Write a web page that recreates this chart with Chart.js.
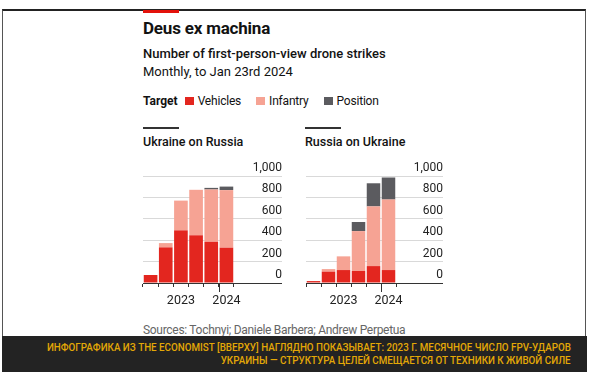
<!DOCTYPE html>
<html>
<head>
<meta charset="utf-8">
<script src="https://cdn.jsdelivr.net/npm/chart.js@4.4.1/dist/chart.umd.min.js"></script>
<style>
  body { margin: 0; width: 592px; height: 376px; background: #fff; position: relative; overflow: hidden;
         font-family: Roboto, "Noto Sans", sans-serif; color: #121212; }
  .frame { position: absolute; left: 2px; top: 9px; width: 582px; height: 326px;
           border-top: 2px solid #222; border-left: 1px solid #555; border-right: 1px solid #555; }
  .redtag { position: absolute; left: 143px; top: 10px; width: 36px; height: 3px; background: #e3120b; }
  .t { position: absolute; white-space: nowrap; line-height: 1; }
  .title { left: 143px; top: 20px; font-size: 17px; font-weight: 700; letter-spacing: -0.2px; }
  .sub { left: 143px; top: 47px; font-size: 13px; font-weight: 500; }
  .sub2 { left: 143px; top: 65px; font-size: 13px; }
  .legend { left: 143px; top: 95px; font-size: 12px; }
  .legend b { margin-right: 7px; }
  .sw { display: inline-block; width: 9px; height: 8px; margin-right: 4px; }
  .legend span.item { margin-right: 15px; letter-spacing: -0.2px; }
  .rule { position: absolute; height: 1.5px; width: 36px; background: #333; top: 127px; }
  .ptitle { top: 136px; font-size: 12.5px; font-weight: 500; }
  .src { left: 143px; top: 324px; font-size: 12px; color: #666; letter-spacing: -0.3px; }
  .band { position: absolute; left: 2px; top: 336px; width: 585px; height: 36px; background: #232323; }
  .bl { position: absolute; right: 16px; white-space: nowrap; line-height: 1; font-size: 10.5px;
        font-weight: 500; color: #e3a806; transform-origin: right center; }
  canvas { position: absolute; }
</style>
</head>
<body>
<div class="frame"></div>
<div class="redtag"></div>
<div class="t title">Deus ex machina</div>
<div class="t sub">Number of first-person-view drone strikes</div>
<div class="t sub2">Monthly, to Jan 23rd 2024</div>
<div class="t legend" id="legend"></div>

<div class="rule" style="left:143px"></div>
<div class="t ptitle" style="left:143px">Ukraine on Russia</div>
<div class="rule" style="left:305px"></div>
<div class="t ptitle" style="left:305px">Russia on Ukraine</div>

<canvas id="left" width="150" height="165" style="left:140px; top:153px"></canvas>
<canvas id="right" width="150" height="165" style="left:303px; top:153px"></canvas>

<div class="t src">Sources: Tochnyi; Daniele Barbera; Andrew Perpetua</div>
<div class="band">
  <div class="bl" id="l1" style="top:7px">ИНФОГРАФИКА ИЗ THE ECONOMIST [ВВЕРХУ] НАГЛЯДНО ПОКАЗЫВАЕТ: 2023 Г. МЕСЯЧНОЕ ЧИСЛО FPV-УДАРОВ</div>
  <div class="bl" id="l2" style="top:20px">УКРАИНЫ — СТРУКТУРА ЦЕЛЕЙ СМЕЩАЕТСЯ ОТ ТЕХНИКИ К ЖИВОЙ СИЛЕ</div>
</div>

<script>
const months = ['Aug 2023', 'Sep 2023', 'Oct 2023', 'Nov 2023', 'Dec 2023', 'Jan 2024'];
const yearLabels = ['', '', '2023', '', '', '2024'];
const yTicks = [0, 200, 400, 600, 800, 1000];

const seriesNames = ['Vehicles', 'Infantry', 'Position'];
const seriesColors = ['#e3261f', '#f6a394', '#5b5b5f'];

// Ukraine on Russia
const uaVehicles = [75, 333, 492, 446, 385, 330];
const uaInfantry = [0, 40, 278, 425, 489, 538];
const uaPosition = [0, 0, 0, 0, 15, 33];

// Russia on Ukraine
const ruVehicles = [18, 106, 121, 112, 158, 121];
const ruInfantry = [0, 24, 128, 373, 558, 659];
const ruPosition = [0, 0, 0, 85, 216, 206];

// legend
let lg = '<b>Target</b>';
seriesNames.forEach((n, i) => {
    lg += '<span class="item"><span class="sw" style="background:' + seriesColors[i] + '"></span>' + n + '</span>';
});
document.getElementById('legend').innerHTML = lg;

// longer tick at the year boundary
const yearTick = {
    id: 'yearTick',
    afterDraw(chart) {
        const x = chart.scales.x;
        const px = (x.getPixelForValue(4) + x.getPixelForValue(5)) / 2;
        const c = chart.ctx;
        c.save();
        c.strokeStyle = '#333';
        c.lineWidth = 1;
        c.beginPath();
        c.moveTo(Math.round(px) + 0.5, chart.chartArea.bottom);
        c.lineTo(Math.round(px) + 0.5, chart.chartArea.bottom + 9);
        c.stroke();
        c.restore();
    }
};

function makeChart(id, vehicles, infantry, position, axisWidth, padRight) {
    const vals = [vehicles, infantry, position];
    new Chart(document.getElementById(id), {
        type: 'bar',
        data: {
            labels: months,
            datasets: seriesNames.map((n, i) => ({
                label: n,
                data: vals[i],
                backgroundColor: seriesColors[i],
                borderWidth: 0,
                barPercentage: 0.9,
                categoryPercentage: 1
            }))
        },
        options: {
            responsive: false,
            animation: false,
            layout: { padding: { left: 3, right: padRight, top: 23, bottom: 4 } },
            plugins: { legend: { display: false }, tooltip: { enabled: false } },
            scales: {
                x: {
                    stacked: true,
                    z: 1,
                    border: { display: true, color: '#333', width: 1 },
                    grid: { display: true, drawOnChartArea: false, offset: true, tickLength: 4, color: '#333' },
                    ticks: {
                        autoSkip: false, maxRotation: 0, padding: 6,
                        color: '#222', font: { family: 'Roboto', size: 12.5 },
                        callback: (v, i) => yearLabels[i]
                    }
                },
                y: {
                    stacked: true,
                    position: 'right',
                    min: 0, max: 1000,
                    afterBuildTicks: (s) => { s.ticks = yTicks.map(v => ({ value: v })); },
                    afterFit: (s) => { s.width = axisWidth; },
                    border: { display: false },
                    grid: {
                        tickLength: axisWidth,
                        color: (c) => c.tick.value === 0 ? '#333' : '#d9d9d9',
                        tickColor: (c) => c.tick.value === 0 ? '#333' : '#d9d9d9'
                    },
                    ticks: {
                        crossAlign: 'far', padding: 0, labelOffset: -8,
                        color: '#222', font: { family: 'Roboto', size: 12 },
                        callback: (v) => v.toLocaleString('en-US')
                    }
                }
            }
        },
        plugins: [yearTick]
    });
}

makeChart('left', uaVehicles, uaInfantry, uaPosition, 48, 8);
makeChart('right', ruVehicles, ruInfantry, ruPosition, 47, 10);

// fit the caption lines to the band width
const l1 = document.getElementById('l1'), l2 = document.getElementById('l2');
const k = 524 / l1.getBoundingClientRect().width;
l1.style.transform = 'scaleX(' + k + ')';
l2.style.transform = 'scaleX(' + k + ')';
</script>
</body>
</html>
